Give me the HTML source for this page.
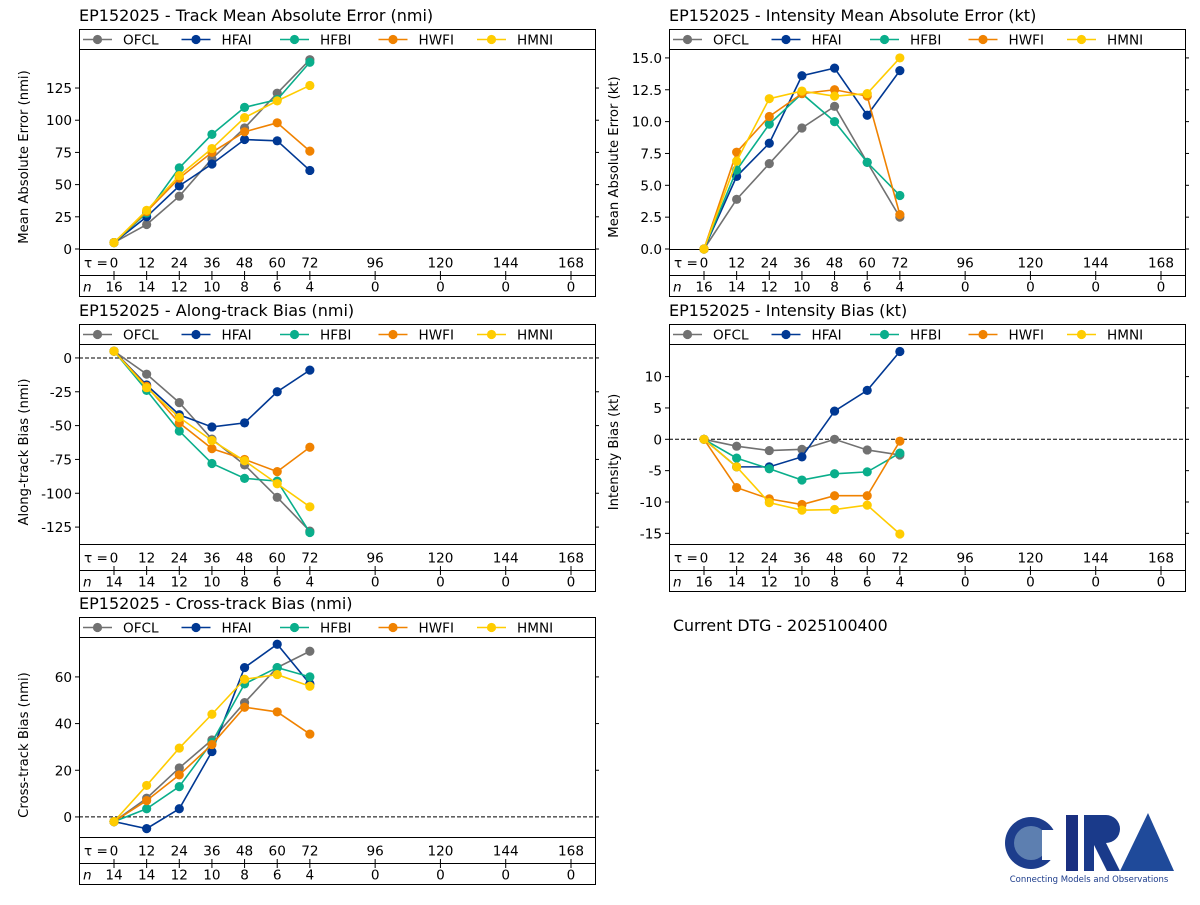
<!DOCTYPE html>
<html><head><meta charset="utf-8"><style>
body{margin:0;background:#fff;}
svg text{font-family:"DejaVu Sans","Liberation Sans",sans-serif;}
</style></head><body>
<svg id="s" width="1200" height="900" xmlns="http://www.w3.org/2000/svg">
<text x="673" y="631" font-size="15.8">Current DTG - 2025100400</text>
<g>
<circle cx="1031" cy="843" r="26" fill="#1d3d8c"/><circle cx="1031" cy="843" r="17" fill="#5d7fb0"/><rect x="1042" y="830" width="20" height="30" fill="#fff"/>
<rect x="1066" y="815" width="12" height="56" fill="#1a2f80"/>
<path d="M1084 815 h22 a14 14 0 0 1 0 28 l14 28 h-13 l-13 -26 v26 h-10z" fill="#1a3a8a"/>
<path d="M1120 871 L1148 813 L1174 871z" fill="#1f4a9a"/>
<text x="1089" y="882" font-size="8.5" fill="#1a3a8a" text-anchor="middle">Connecting Models and Observations</text>
</g>
</svg>
<script>
const hours=[0,12,24,36,48,60,72];
const tauTicks=[0,12,24,36,48,60,72,96,120,144,168];
const nTrackInt=[16,14,12,10,8,6,4,0,0,0,0];
const nPos=[14,14,12,10,8,6,4,0,0,0,0];
const models=["OFCL","HFAI","HFBI","HWFI","HMNI"];
const colors=["#717171","#003893","#0aae8b","#f08200","#ffcc00"];
// Track MAE
const trackOFCL=[5,19,41,70,94,121,147];
const trackHFAI=[5,25,49,66,85,84,61];
const trackHFBI=[5,28,63,89,110,116,145];
const trackHWFI=[5,29,55,75,91,98,76];
const trackHMNI=[5,30,57,78,102,115,127];
// Intensity MAE
const intOFCL=[0,3.9,6.7,9.5,11.2,6.8,2.5];
const intHFAI=[0,5.7,8.3,13.6,14.2,10.5,14.0];
const intHFBI=[0,6.2,9.8,12.2,10.0,6.8,4.2];
const intHWFI=[0,7.6,10.4,12.2,12.5,12.0,2.7];
const intHMNI=[0,6.9,11.8,12.4,12.0,12.2,15.0];
// Along-track bias
const atOFCL=[5,-12,-33,-60,-79,-103,-128];
const atHFAI=[5,-20,-42,-51,-48,-25,-9];
const atHFBI=[5,-24,-54,-78,-89,-91,-129];
const atHWFI=[5,-21,-48,-67,-75,-84,-66];
const atHMNI=[5,-22,-44,-61,-76,-93,-110];
// Intensity bias
const ibOFCL=[0,-1.1,-1.8,-1.6,0,-1.7,-2.5];
const ibHFAI=[0,-4.4,-4.4,-2.8,4.5,7.8,14.0];
const ibHFBI=[0,-3.0,-4.7,-6.5,-5.5,-5.2,-2.2];
const ibHWFI=[0,-7.7,-9.5,-10.4,-9.0,-9.0,-0.3];
const ibHMNI=[0,-4.4,-10.1,-11.3,-11.2,-10.5,-15.1];
// Cross-track bias
const ctOFCL=[-2,8,21,33,49,64,71];
const ctHFAI=[-2,-5,3.5,28,64,74,57];
const ctHFBI=[-2,3.5,13,32,57,64,60];
const ctHWFI=[-2,7,18,31,47,45,35.5];
const ctHMNI=[-2,13.5,29.5,44,59,61,56];

const trackTicks=[0,25,50,75,100,125];
const intTicks=[0,2.5,5,7.5,10,12.5,15];
const atTicks=[0,-25,-50,-75,-100,-125];
const ibTicks=[-15,-10,-5,0,5,10];
const ctTicks=[0,20,40,60];

const NS="http://www.w3.org/2000/svg";
const svg=document.getElementById('s');
function mk(tag,attrs,parent,txt){const e=document.createElementNS(NS,tag);for(const k in attrs)e.setAttribute(k,attrs[k]);if(txt!==undefined)e.textContent=txt;(parent||svg).appendChild(e);return e;}
const FS=13.6;
function panel(o){
  const g=mk('g',{});
  
  
  const L=o.x,R=o.x+516,T=o.y;
  const pT=T+20,pB=T+220,tB=pB+26,nB=tB+21;
  const xs=h=>L+35+h*(457/168);
  const ys=v=>pT+(o.ymax-v)/(o.ymax-o.ymin)*(pB-pT);
  const title=mk('text',{x:L,y:T-8,'font-size':16},g,o.title);
  
  
  mk('rect',{x:L+0.5,y:T+0.5,width:516,height:nB-T,fill:'none',stroke:'#000','stroke-width':1},g);
  [pT,pB,tB].forEach(y=>mk('line',{x1:L,x2:R,y1:y+0.5,y2:y+0.5,stroke:'#000'},g));
  o.ticks.forEach(v=>{const y=ys(v);
    mk('line',{x1:L-4,x2:L,y1:y,y2:y,stroke:'#000'},g);
    mk('line',{x1:R,x2:R+4,y1:y,y2:y,stroke:'#000'},g);
    const t=mk('text',{x:L-7,y:y+5,'font-size':FS,'text-anchor':'end'},g,o.fmt(v));
    
    
  });
  const yt=mk('text',{transform:`translate(${L-51},${(pT+pB)/2+8}) rotate(-90)`,'font-size':13.2,'text-anchor':'middle'},g,o.ylabel);
  
  
  if(o.zero){mk('line',{x1:L,x2:R,y1:ys(0),y2:ys(0),stroke:'#000','stroke-dasharray':'4,2'},g);}
  mk('text',{x:L+5,y:pB+18.5,'font-size':FS},g,'τ =');
  tauTicks.forEach((h,i)=>{const x=xs(h);
    const t=mk('text',{x:x,y:pB+18.5,'font-size':FS,'text-anchor':'middle'},g,String(h));
    
    
    mk('line',{x1:x,x2:x,y1:tB-4,y2:tB+5,stroke:'#000'},g);
    const n=mk('text',{x:x,y:nB-4.5,'font-size':FS,'text-anchor':'middle'},g,String(o.n[i]));
    
    
  });
  mk('text',{x:L+4,y:nB-4.5,'font-size':FS,'font-style':'italic'},g,'n');
  o.series.forEach((d,k)=>{
    const sg=mk('g',{},g);
    
    
    mk('polyline',{points:d.map((v,i)=>xs(hours[i])+','+ys(v)).join(' '),fill:'none',stroke:colors[k],'stroke-width':1.6},sg);
    d.forEach((v,i)=>{const c=mk('circle',{cx:xs(hours[i]),cy:ys(v),r:4.6,fill:colors[k]},sg);
      
      });
  });
  models.forEach((m,k)=>{const lx=L+4+k*98.5;
    const lg=mk('g',{},g);
    
    
    mk('line',{x1:lx,x2:lx+29,y1:T+10.5,y2:T+10.5,stroke:colors[k],'stroke-width':1.6},lg);
    mk('circle',{cx:lx+14.5,cy:T+10.5,r:4.6,fill:colors[k]},lg);
    mk('text',{x:lx+40,y:T+15.5,'font-size':FS},lg,m);
  });
}
const f1=v=>String(v), f2=v=>v.toFixed(1);
panel({name:'track-mae-panel',x:79,y:29,title:'EP152025 - Track Mean Absolute Error (nmi)',ylabel:'Mean Absolute Error (nmi)',ymin:0,ymax:155.3,ticks:trackTicks,fmt:f1,n:nTrackInt,series:[trackOFCL,trackHFAI,trackHFBI,trackHWFI,trackHMNI]});
panel({name:'intensity-mae-panel',x:669,y:29,title:'EP152025 - Intensity Mean Absolute Error (kt)',ylabel:'Mean Absolute Error (kt)',ymin:0,ymax:15.7,ticks:intTicks,fmt:f2,n:nTrackInt,series:[intOFCL,intHFAI,intHFBI,intHWFI,intHMNI]});
panel({name:'along-track-bias-panel',x:79,y:324,title:'EP152025 - Along-track Bias (nmi)',ylabel:'Along-track Bias (nmi)',ymin:-137.5,ymax:10.3,ticks:atTicks,fmt:f1,n:nPos,zero:true,series:[atOFCL,atHFAI,atHFBI,atHWFI,atHMNI]});
panel({name:'intensity-bias-panel',x:669,y:324,title:'EP152025 - Intensity Bias (kt)',ylabel:'Intensity Bias (kt)',ymin:-16.7,ymax:15.2,ticks:ibTicks,fmt:f1,n:nTrackInt,zero:true,series:[ibOFCL,ibHFAI,ibHFBI,ibHWFI,ibHMNI]});
panel({name:'cross-track-bias-panel',x:79,y:617,title:'EP152025 - Cross-track Bias (nmi)',ylabel:'Cross-track Bias (nmi)',ymin:-8.6,ymax:77.1,ticks:ctTicks,fmt:f1,n:nPos,zero:true,series:[ctOFCL,ctHFAI,ctHFBI,ctHWFI,ctHMNI]});
</script>
</body></html>
